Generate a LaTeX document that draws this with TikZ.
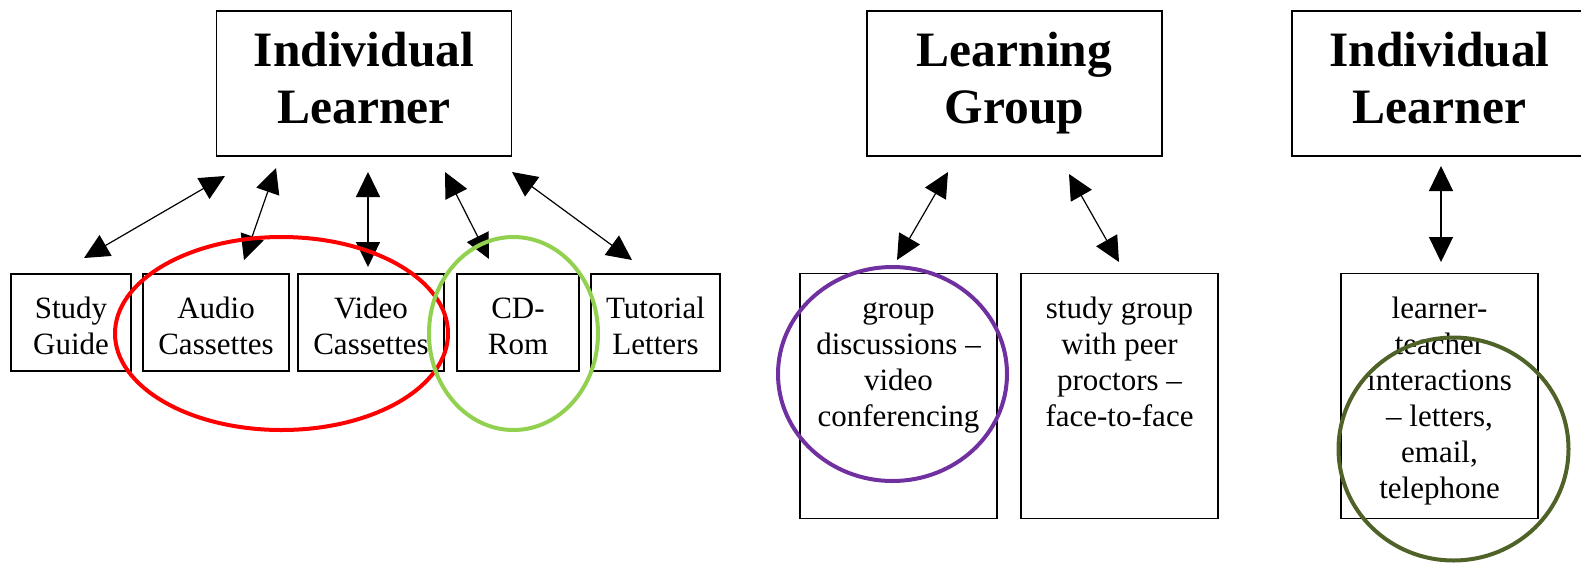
\documentclass[tikz,border=0pt]{standalone}
\usepackage{fontspec}
\setmainfont{Liberation Serif}
\usetikzlibrary{arrows.meta}
\definecolor{ringred}{HTML}{FF0000}
\definecolor{ringlime}{HTML}{92D050}
\definecolor{ringpurple}{HTML}{7030A0}
\definecolor{ringolive}{HTML}{4F6228}
\begin{document}
\begin{tikzpicture}[x=1pt,y=-1pt,
  box/.style={draw, line width=1.3pt, inner sep=0pt},
  headbox/.style={box, minimum width=295pt, minimum height=145pt, align=center,
    font=\fontsize{49.5}{57}\selectfont\bfseries},
  itembox/.style={box, minimum height=97pt},
  tallbox/.style={box, minimum height=245pt},
  boxtext/.style={anchor=north, inner sep=0pt, align=center,
    font=\fontsize{31}{36}\selectfont},
  link/.style={line width=1.2pt,
    {Triangle[length=25pt,width=24pt]}-{Triangle[length=25pt,width=24pt]}},
  ring/.style={line width=4pt}]
\useasboundingbox (0,0) rectangle (1581,563);

% heading boxes
\node[headbox] (learnerA) at (364,83.5) {\strut Individual\\Learner\strut};
\node[headbox] (group) at (1014.5,83.5) {\strut Learning\\Group\strut};
\node[headbox] (learnerB) at (1439.5,83.5) {\strut Individual\\Learner\strut};

% media boxes
\node[itembox, minimum width=120pt] (guide) at (71,322.5) {};
\node[itembox, minimum width=146pt] (audio) at (216,322.5) {};
\node[itembox, minimum width=146pt] (video) at (371,322.5) {};
\node[itembox, minimum width=122pt] (cdrom) at (518,322.5) {};
\node[itembox, minimum width=129pt] (tutor) at (655.5,322.5) {};
\node[boxtext] (guide text) at ([yshift=-20pt]guide.north) {\strut Study\\Guide};
\node[boxtext] (audio text) at ([yshift=-20pt]audio.north) {\strut Audio\\Cassettes};
\node[boxtext] (video text) at ([yshift=-20pt]video.north) {\strut Video\\Cassettes};
\node[boxtext] (cdrom text) at ([yshift=-20pt]cdrom.north) {\strut CD-\\Rom};
\node[boxtext] (tutor text) at ([yshift=-20pt]tutor.north) {\strut Tutorial\\Letters};

% interaction boxes
\node[tallbox, minimum width=197pt] (video conf) at (898.5,396) {};
\node[tallbox, minimum width=197pt] (peer) at (1119.5,396) {};
\node[tallbox, minimum width=197pt] (teacher) at (1439.5,396) {};
\node[boxtext] (video conf text) at ([yshift=-20pt]video conf.north)
  {\strut group\\discussions –\\video\\conferencing};
\node[boxtext] (peer text) at ([yshift=-20pt]peer.north)
  {\strut study group\\with peer\\proctors –\\face-to-face};
\node[boxtext] (teacher text) at ([yshift=-20pt]teacher.north)
  {\strut learner-\\teacher\\interactions\\– letters,\\email,\\telephone};

% arrow ends
\coordinate (a1t) at (225,176);  \coordinate (a1b) at (84,258);
\coordinate (a2t) at (276,168);  \coordinate (a2b) at (244,260);
\coordinate (a3t) at (368,172);  \coordinate (a3b) at (368,267);
\coordinate (a4t) at (445,172);  \coordinate (a4b) at (489,259);
\coordinate (a5t) at (512,172);  \coordinate (a5b) at (632,260);
\coordinate (a6t) at (948,172);  \coordinate (a6b) at (897,260);
\coordinate (a7t) at (1069,174); \coordinate (a7b) at (1119,262);
\coordinate (a8t) at (1441,166); \coordinate (a8b) at (1441,262);

\foreach \i in {1,...,8} \draw[link] (a\i t) -- (a\i b);

% highlight rings
\draw[ring, ringred] (281.5,333.5) ellipse [x radius=166.5, y radius=96.5];
\draw[ring, ringlime] (513.5,333.5) ellipse [x radius=84.5, y radius=96.5];
\draw[ring, ringpurple] (892.5,374) ellipse [x radius=114.5, y radius=107];
\draw[ring, ringolive] (1453.5,449) ellipse [x radius=115, y radius=111.5];
\end{tikzpicture}
\end{document}
